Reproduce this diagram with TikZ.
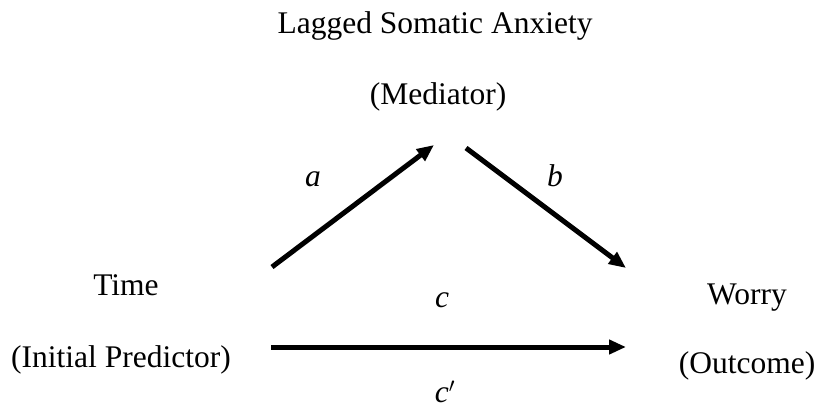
\documentclass[tikz,border=0pt]{standalone}
\usepackage{fontspec}
\setmainfont{Liberation Serif}
\usetikzlibrary{arrows.meta}
\begin{document}
\begin{tikzpicture}[x=1pt,y=-1pt,
  lbl/.style={inner sep=0pt,anchor=base,font=\fontsize{31.5}{37}\selectfont},
  pathlbl/.style={inner sep=0pt,anchor=base,font=\fontsize{31.5}{37}\selectfont\itshape},
  arr/.style={line width=5pt,-{Triangle[length=17pt,width=14pt]}}]
\useasboundingbox (0,0) rectangle (819,410);
\node[lbl] (med1) at (435,33) {Lagged Somatic Anxiety};
\node[lbl] (med2) at (438,104) {(Mediator)};
\node[lbl] (time1) at (126,295) {Time};
\node[lbl] (time2) at (121,367) {(Initial Predictor)};
\node[lbl] (out1) at (747,304) {Worry};
\node[lbl] (out2) at (747,373) {(Outcome)};
\node[pathlbl] (la) at (313,186) {a};
\node[pathlbl] (lb) at (555,186) {b};
\node[pathlbl] (lc) at (442,307) {c};
\node[pathlbl] (lcp) at (445,402) {c$'$};
\coordinate (aS) at (272,267);
\coordinate (aE) at (434,145);
\coordinate (bS) at (466,148);
\coordinate (bE) at (626,268);
\coordinate (cS) at (271,347);
\coordinate (cE) at (626,347);
\draw[arr] (aS) -- (aE);
\draw[arr] (bS) -- (bE);
\draw[arr] (cS) -- (cE);
\end{tikzpicture}
\end{document}
